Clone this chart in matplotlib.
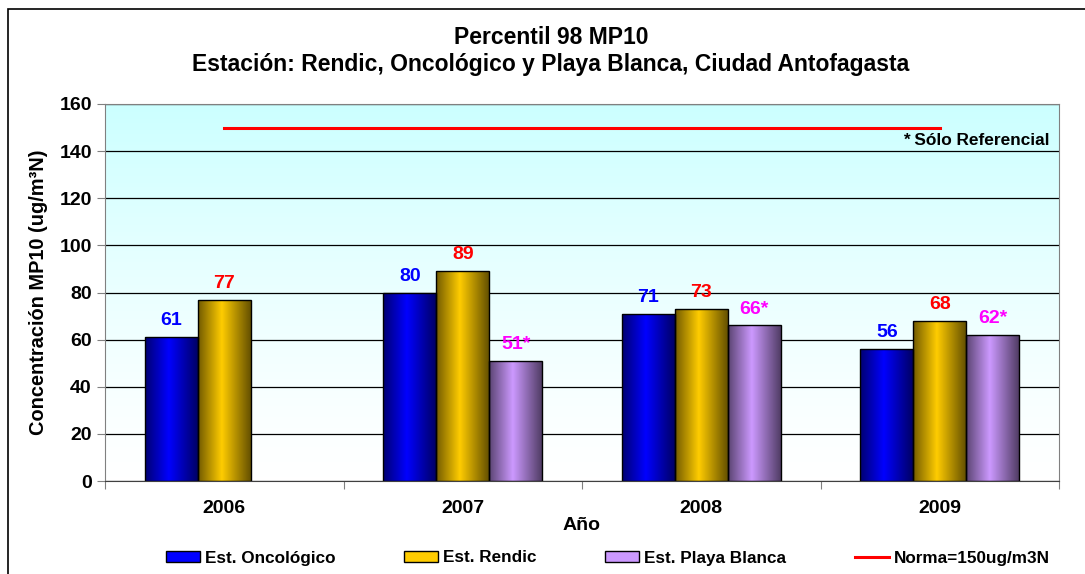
import matplotlib
matplotlib.use('Agg')
import matplotlib.pyplot as plt
from matplotlib.colors import to_rgb
from matplotlib.patches import Rectangle
from matplotlib.lines import Line2D
import numpy as np

plt.rcParams['font.family'] = ['Liberation Sans', 'DejaVu Sans']
plt.rcParams['font.weight'] = 'bold'

# datos
years = ['2006', '2007', '2008', '2009']
oncologico = [61, 80, 71, 56]
rendic = [77, 89, 73, 68]
playa_blanca = [np.nan, 51, 66, 62]
norma = 150

series = [
    ('Est. Oncológico', oncologico, '#0000ff', '#0000ff', ''),
    ('Est. Rendic', rendic, '#ffcc00', '#ff0000', ''),
    ('Est. Playa Blanca', playa_blanca, '#cc99ff', '#ff00ff', '*'),
]


def shade(color):
    # perfil tipo cilindro: oscuro en bordes, claro cerca del centro
    t = np.linspace(0, 1, 64)
    f = np.interp(t, [0, 0.45, 1], [0.45, 1.0, 0.4])
    c = np.array(to_rgb(color))
    return (f[:, None] * c[None, :])[None, :, :]


fig = plt.figure(figsize=(10.85, 5.74), dpi=100)
ax = fig.add_axes([105 / 1085, 1 - 481 / 574, (1059 - 105) / 1085, (481 - 104) / 574])

# fondo degradado celeste -> blanco
bg = np.ones((100, 1, 3))
top = np.array(to_rgb('#ccffff'))
w = np.linspace(1, 0, 100) ** 1.3
bg[:, 0, :] = top[None, :] * w[:, None] + 1 * (1 - w[:, None])
ax.imshow(bg[::-1], extent=[-0.5, 3.5, 0, 160], aspect='auto', origin='lower', zorder=0)

x = np.arange(len(years))
width = 0.222
offsets = [-width, 0, width]

for (name, vals, col, lcol, suf), off in zip(series, offsets):
    for xi, v in zip(x, vals):
        if np.isnan(v):
            continue
        rect = Rectangle((xi + off - width / 2, 0), width, v, facecolor='none',
                         edgecolor='black', linewidth=1.0, zorder=4)
        ax.add_patch(rect)
        im = ax.imshow(shade(col), extent=[xi + off - width / 2, xi + off + width / 2, 0, v],
                       aspect='auto', zorder=3)
        im.set_clip_path(rect)
        ax.annotate(f'{v:g}{suf}', (xi + off, v), xytext=(0, 8.5), textcoords='offset points',
                    ha='center', va='baseline', color=lcol, fontsize=14, fontweight='bold')

ax.plot([x[0], x[-1]], [norma, norma], color='#ff0000', linewidth=2.2, zorder=5)

ax.set_xlim(-0.5, 3.5)
ax.set_ylim(0, 160)
ax.set_yticks(range(0, 161, 20))
ax.yaxis.grid(True, color='black', linewidth=0.9)
ax.set_axisbelow(False)
for gl in ax.get_ygridlines():
    gl.set_zorder(1)

ax.set_xticks(np.arange(-0.5, 3.6, 1))
ax.set_xticklabels([])
ax.set_xticks(x, minor=True)
ax.set_xticklabels(years, minor=True)
ax.tick_params(axis='x', which='minor', length=0, pad=14, labelsize=14)
ax.tick_params(axis='x', which='major', length=6, direction='out', color='#808080')
ax.tick_params(axis='y', length=6, direction='out', labelsize=14, color='#808080')
for s in ax.spines.values():
    s.set_color('#808080')
    s.set_zorder(6)
ax.spines['bottom'].set_color('#404040')

ax.set_ylabel('Concentración MP10 (ug/m³N)', fontsize=14.4, fontweight='bold', labelpad=8)
ax.set_xlabel('Año', fontsize=14, fontweight='bold', labelpad=0)

ax.text(0.99, 0.9045, '* Sólo Referencial', transform=ax.transAxes, ha='right', va='center',
        fontsize=12.4, fontweight='bold', zorder=7)

fig.text(551 / 1085, 1 - 37 / 574, 'Percentil 98 MP10', ha='center', va='center',
         fontsize=16.5, fontweight='bold')
fig.text(551 / 1085, 1 - 64 / 574, 'Estación: Rendic, Oncológico y Playa Blanca, Ciudad Antofagasta',
         ha='center', va='center', fontsize=16.5, fontweight='bold')

# marco exterior
fig.patches.append(Rectangle((8 / 1085, -0.1), 1.2, 1 - 9 / 574 + 0.1, transform=fig.transFigure,
                             facecolor='none', edgecolor='black', linewidth=1.2))

handles = [Rectangle((0, 0), 1, 1, facecolor=s[2], edgecolor='black') for s in series]
handles.append(Line2D([0], [0], color='#ff0000', linewidth=2.2))
labels = [s[0] for s in series] + ['Norma=150ug/m3N']
fig.legend(handles, labels, loc='center', bbox_to_anchor=(608 / 1085, 1 - 558 / 574), ncol=4,
           frameon=False, handlelength=2.0, handleheight=0.6, handletextpad=0.3,
           columnspacing=4.0, borderpad=0, prop={'weight': 'bold', 'size': 12.3})

fig.savefig('out.png', dpi=100)
